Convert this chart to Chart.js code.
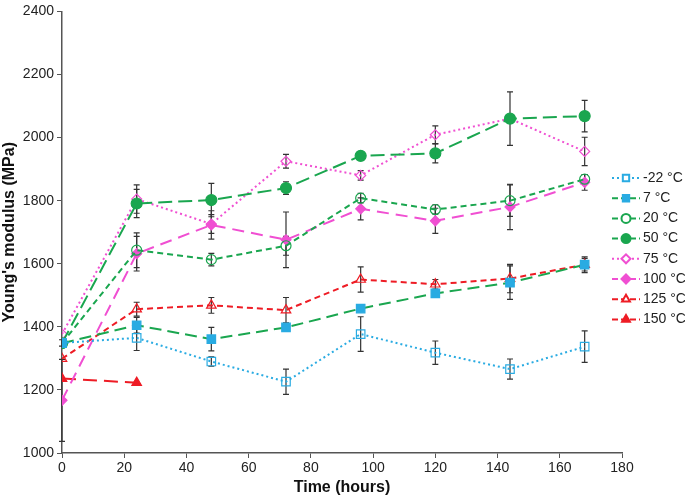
<!DOCTYPE html>
<html>
<head>
<meta charset="utf-8">
<script src="https://cdn.jsdelivr.net/npm/chart.js@4.4.1/dist/chart.umd.min.js"></script>
<style>
  body { margin: 0; background: #fff; }
  canvas { display: block; }
</style>
</head>
<body>
<canvas id="myChart" width="685" height="497"></canvas>
<script>
// Datos
const times = [0, 24, 48, 72, 96, 120, 144, 168];
const times150 = [0, 24];

const m22 = [1349, 1365, 1290, 1226, 1377, 1318, 1266, 1337];
const m7 = [1348, 1405, 1361, 1398, 1458, 1506, 1540, 1597];
const m20 = [1348, 1643, 1613, 1657, 1808, 1772, 1800, 1868];
const m50 = [1348, 1791, 1802, 1840, 1942, 1950, 2060, 2068];
const m75 = [1377, 1805, 1726, 1925, 1880, 2009, 2060, 1956];
const m100 = [1167, 1632, 1723, 1676, 1774, 1736, 1780, 1858];
const m125 = [1299, 1456, 1468, 1453, 1550, 1535, 1553, 1597];
const m150 = [1236, 1223];

// Barras de error (+/-)
const e22 = [10, 40, 15, 40, 55, 37, 32, 50];
const e7 = [0, 25, 37, 10, 10, 10, 53, 20];
const e20 = [0, 55, 20, 30, 15, 15, 50, 15];
const e50 = [0, 45, 53, 20, 12, 30, 85, 50];
const e75 = [0, 45, 30, 22, 15, 28, 0, 45];
const e100 = [130, 55, 45, 88, 35, 40, 72, 25];
const e125 = [0, 22, 25, 40, 40, 15, 45, 25];
const e150 = [0, 0];

const yTicks = [1000, 1200, 1400, 1600, 1800, 2000, 2200, 2400];
const xTicks = [0, 20, 40, 60, 80, 100, 120, 140, 160, 180];

const blue = '#29ABE2';
const green = '#1AA64F';
const pink = '#F04FD2';
const red = '#EE1C25';
const clear = 'rgba(0,0,0,0)';

function pts(xs, ys) {
    return ys.map((y, i) => ({ x: xs[i], y: y }));
}

function serie(label, xs, ys, errs, color, dash, style, fill, radius) {
    return {
        label: label,
        data: pts(xs, ys),
        errs: errs,
        borderColor: color,
        borderWidth: 2,
        borderDash: dash,
        pointStyle: style,
        pointRadius: radius,
        pointBackgroundColor: fill ? color : clear,
        pointBorderColor: color,
        pointBorderWidth: 1.2,
        tension: 0
    };
}

const datasets = [
    serie('-22 °C', times, m22, e22, blue, [2, 3], 'rect', false, 6),
    serie('7 °C', times, m7, e7, green, [12, 6], 'rect', true, 6),
    serie('20 °C', times, m20, e20, green, [6, 4], 'circle', false, 5),
    serie('50 °C', times, m50, e50, green, [14, 6], 'circle', true, 5.5),
    serie('75 °C', times, m75, e75, pink, [2, 3], 'rectRot', false, 5),
    serie('100 °C', times, m100, e100, pink, [12, 7], 'rectRot', true, 5),
    serie('125 °C', times, m125, e125, red, [6, 4], 'triangle', false, 5.5),
    serie('150 °C', times150, m150, e150, red, [14, 7], 'triangle', true, 5.5)
];
// el marcador de 7 °C es azul sobre línea verde
datasets[1].pointBackgroundColor = blue;
datasets[1].pointBorderColor = blue;

// Barras de error
const errorBars = {
    id: 'errorBars',
    beforeDatasetsDraw(chart) {
        const ctx = chart.ctx;
        const xs = chart.scales.x, ys = chart.scales.y;
        ctx.save();
        ctx.strokeStyle = '#333';
        ctx.lineWidth = 1.2;
        chart.data.datasets.forEach(ds => {
            ds.data.forEach((p, i) => {
                const e = ds.errs[i];
                if (!e) return;
                const x = xs.getPixelForValue(p.x);
                const y1 = ys.getPixelForValue(p.y + e);
                const y2 = ys.getPixelForValue(p.y - e);
                ctx.beginPath();
                ctx.moveTo(x, y1); ctx.lineTo(x, y2);
                ctx.moveTo(x - 3, y1); ctx.lineTo(x + 3, y1);
                ctx.moveTo(x - 3, y2); ctx.lineTo(x + 3, y2);
                ctx.stroke();
            });
        });
        ctx.restore();
    }
};

// Leyenda con línea y marcador
const sideLegend = {
    id: 'sideLegend',
    afterDraw(chart) {
        const ctx = chart.ctx;
        ctx.save();
        chart.data.datasets.forEach((ds, i) => {
            const y = 178 + i * 20.2;
            ctx.strokeStyle = ds.borderColor;
            ctx.lineWidth = 2;
            ctx.setLineDash(ds.borderDash[0] > 3 ? [6, 3] : [2, 3]);
            ctx.beginPath();
            ctx.moveTo(612, y); ctx.lineTo(640, y);
            ctx.stroke();
            ctx.setLineDash([]);
            ctx.fillStyle = ds.pointBackgroundColor === clear ? '#fff' : ds.pointBackgroundColor;
            ctx.strokeStyle = ds.pointBorderColor;
            Chart.helpers.drawPoint(ctx, { pointStyle: ds.pointStyle, radius: 4.5, borderWidth: 1.2 }, 626, y);
            ctx.fillStyle = '#222';
            ctx.font = '14px "Liberation Sans", Arial, sans-serif';
            ctx.textBaseline = 'middle';
            ctx.textAlign = 'left';
            ctx.fillText(ds.label, 643, y);
        });
        ctx.restore();
    }
};

const tickFont = { family: '"Liberation Sans", Arial, sans-serif', size: 14 };
const titleFont = { family: '"Liberation Sans", Arial, sans-serif', size: 16, weight: 'bold' };

var ctx = document.getElementById('myChart').getContext('2d');
var myChart = new Chart(ctx, {
    type: 'line',
    data: { datasets: datasets },
    options: {
        responsive: false,
        animation: false,
        devicePixelRatio: 1,
        layout: { padding: { top: 8, right: 63, left: 0, bottom: 0 } },
        plugins: {
            legend: { display: false },
            tooltip: { enabled: false }
        },
        scales: {
            x: {
                type: 'linear',
                min: 0,
                max: 180,
                afterBuildTicks: s => { s.ticks = xTicks.map(v => ({ value: v })); },
                afterFit: s => { s.height = 44; },
                grid: { drawOnChartArea: false, drawTicks: true, tickLength: 5, color: '#555' },
                border: { color: '#555', width: 1.5 },
                ticks: { font: tickFont, color: '#222', padding: 2, maxRotation: 0, callback: v => String(v) },
                title: { display: true, text: 'Time (hours)', font: titleFont, color: '#111', padding: 0 }
            },
            y: {
                min: 1000,
                max: 2400,
                afterBuildTicks: s => { s.ticks = yTicks.map(v => ({ value: v })); },
                afterFit: s => { s.width = 62; },
                grid: { drawOnChartArea: false, drawTicks: true, tickLength: 5, color: '#555' },
                border: { color: '#555', width: 1.5 },
                ticks: { font: tickFont, color: '#222', padding: 3, callback: v => String(v) },
                title: { display: true, text: "Young's modulus (MPa)", font: titleFont, color: '#111', padding: 0 }
            }
        }
    },
    plugins: [errorBars, sideLegend]
});
</script>
</body>
</html>
